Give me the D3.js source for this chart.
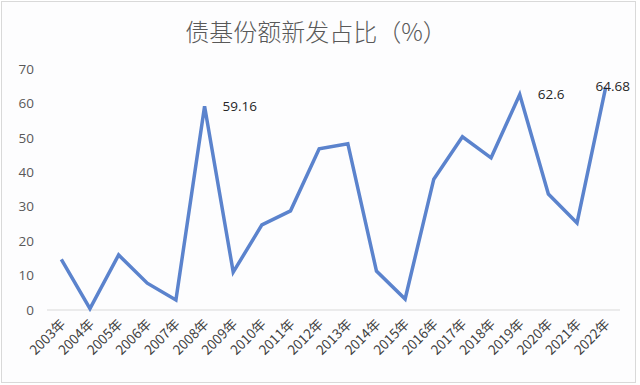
<!DOCTYPE html>
<html>
<head>
<meta charset="utf-8">
<script src="https://cdn.jsdelivr.net/npm/d3@7"></script>
<style>
  body { margin: 0; background: #fff; }
  text { font-family: "Noto Sans CJK SC", "Noto Sans", sans-serif; }
</style>
</head>
<body>
<svg id="chart"></svg>
<script>
// data
var years = ["2003年", "2004年", "2005年", "2006年", "2007年", "2008年", "2009年", "2010年", "2011年", "2012年",
             "2013年", "2014年", "2015年", "2016年", "2017年", "2018年", "2019年", "2020年", "2021年", "2022年"];
var share = [14.7, 0.4, 16.0, 7.8, 2.9, 59.16, 11.0, 24.7, 28.8, 46.8,
             48.3, 11.3, 3.2, 38.0, 50.3, 44.2, 62.6, 33.7, 25.3, 64.68];
var labelled = ["2008年", "2019年", "2022年"];
var yTicks = [0, 10, 20, 30, 40, 50, 60, 70];
var title = "债基份额新发占比（%）";

// parameters
var width = 640;
var height = 385;
var plotLeft = 47, plotRight = 620, plotTop = 69, plotBottom = 310;

var svg = d3.select("#chart").attr("width", width).attr("height", height);

// background and frame
svg.append("rect")
  .attr("x", 1.5).attr("y", 1.5)
  .attr("width", width - 6).attr("height", height - 4)
  .attr("fill", "#fdfdfe")
  .attr("stroke", "#d9d9d9")
  .attr("stroke-width", 1);

// scales
var x = d3.scalePoint().domain(years).range([plotLeft, plotRight]).padding(0.5);
var y = d3.scaleLinear().domain([0, 70]).range([plotBottom, plotTop]);

// title
svg.append("text")
  .attr("x", 316).attr("y", 41)
  .attr("text-anchor", "middle")
  .attr("font-size", "24px")
  .attr("font-weight", 300)
  .attr("fill", "#595959")
  .text(title);

// y axis labels
svg.selectAll(".ytick").data(yTicks).enter().append("text")
  .attr("class", "ytick")
  .attr("x", 34)
  .attr("y", function (d) { return y(d); })
  .attr("dy", "0.35em")
  .attr("text-anchor", "end")
  .attr("font-size", "13.5px")
  .attr("fill", "#595959")
  .style("font-family", "'Open Sans', 'Noto Sans', sans-serif")
  .text(function (d) { return d; });

// baseline
svg.append("line")
  .attr("x1", plotLeft).attr("x2", plotRight)
  .attr("y1", y(0)).attr("y2", y(0))
  .attr("stroke", "#d9d9d9")
  .attr("stroke-width", 1);

// x labels, rotated
svg.selectAll(".xtick").data(years).enter().append("text")
  .attr("class", "xtick")
  .attr("transform", function (d) { return "translate(" + (x(d) + 5) + "," + (y(0) + 15) + ") rotate(-45)"; })
  .attr("text-anchor", "end")
  .attr("font-size", "13.5px")
  .attr("fill", "#404040")
  .text(function (d) { return d; });

// the line
var line = d3.line()
  .x(function (d, i) { return x(years[i]); })
  .y(function (d) { return y(d); });

svg.append("path")
  .datum(share)
  .attr("d", line)
  .attr("fill", "none")
  .attr("stroke", "#5b83cd")
  .attr("stroke-width", 3.5)
  .attr("stroke-linejoin", "miter");

// data labels
labelled.forEach(function (yr) {
  var i = years.indexOf(yr);
  var t = svg.append("text")
    .attr("x", x(yr) + 18)
    .attr("y", y(share[i]))
    .attr("dy", "0.35em")
    .attr("font-size", "13.5px")
    .attr("fill", "#262626")
    .style("font-family", "'Open Sans', 'Noto Sans', sans-serif")
    .text(share[i]);
  // keep it inside the frame
  var w = t.node().getComputedTextLength();
  if (x(yr) + 18 + w > 630) {
    t.attr("x", 630 - w).attr("y", y(share[i]) - 1);
  }
});
</script>
</body>
</html>
